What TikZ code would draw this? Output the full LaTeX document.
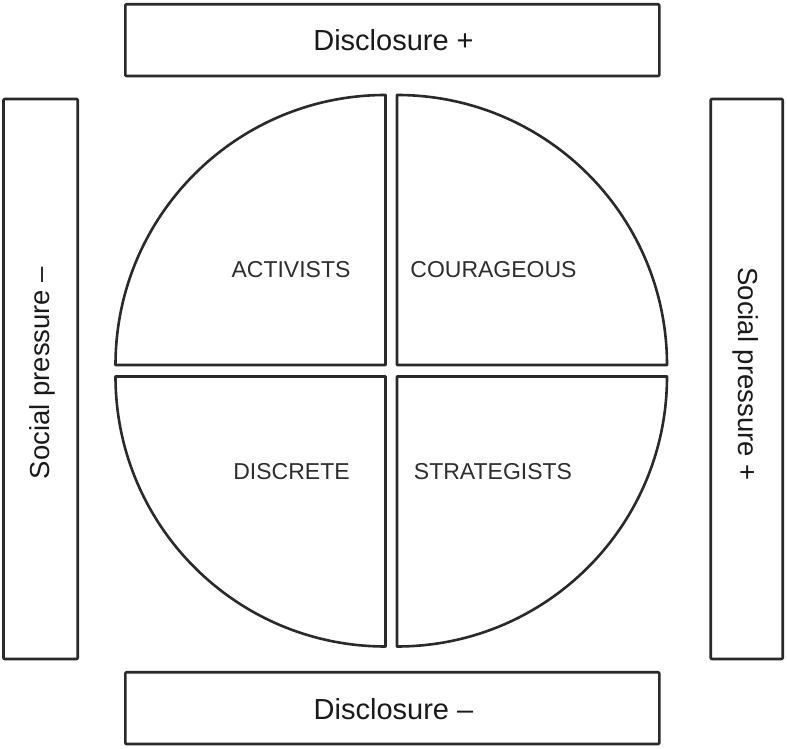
\documentclass[tikz,border=0pt]{standalone}
\usepackage{fontspec}
\setmainfont{Liberation Sans}
\definecolor{ln}{HTML}{2A2A2A}
\definecolor{tx}{HTML}{1A1A1A}
\definecolor{qt}{HTML}{2E2E2E}
\begin{document}
\begin{tikzpicture}[x=1pt,y=1pt,
  frame/.style={draw=ln,line width=2.6pt,rounded corners=1pt,line join=round},
  quad/.style={draw=ln,line width=2.6pt,line join=round,fill=white},
  lab/.style={text=tx,font=\fontsize{29}{32}\selectfont,inner sep=0pt},
  slab/.style={text=tx,font=\fontsize{27.5}{30}\selectfont,inner sep=0pt},
  qlab/.style={text=qt,font=\fontsize{23}{26}\selectfont,inner sep=0pt}]
\useasboundingbox (0,0) rectangle (787,749);
\fill[white] (0,0) rectangle (787,749);
% boxes
\draw[frame] (125.3,673) rectangle (659.3,744.7);
\draw[frame] (125.3,5) rectangle (659.3,76.7);
\draw[frame] (3.5,90) rectangle (77.7,650);
\draw[frame] (710.7,90) rectangle (782.7,650);
\node[lab] (top) at (393.5,709) {Disclosure +};
\node[lab] (bot) at (393.5,40) {Disclosure –};
\node[slab,rotate=90] (left) at (42,376) {Social pressure –};
\node[slab,rotate=-90] (right) at (746,375) {Social pressure +};
% quadrants
\draw[quad] (385.5,384) -- (115.5,384) arc[start angle=180,end angle=90,radius=270] -- cycle;
\draw[quad] (397,384) -- (397,654) arc[start angle=90,end angle=0,radius=270] -- cycle;
\draw[quad] (385.5,372.5) -- (115.5,372.5) arc[start angle=180,end angle=270,radius=270] -- cycle;
\draw[quad] (397,372.5) -- (667,372.5) arc[start angle=0,end angle=-90,radius=270] -- cycle;
\node[qlab] (act) at (291,479.5) {ACTIVISTS};
\node[qlab] (cou) at (493.5,479.5) {COURAGEOUS};
\node[qlab] (dis) at (291.5,277) {DISCRETE};
\node[qlab] (str) at (493,277) {STRATEGISTS};
\end{tikzpicture}
\end{document}
